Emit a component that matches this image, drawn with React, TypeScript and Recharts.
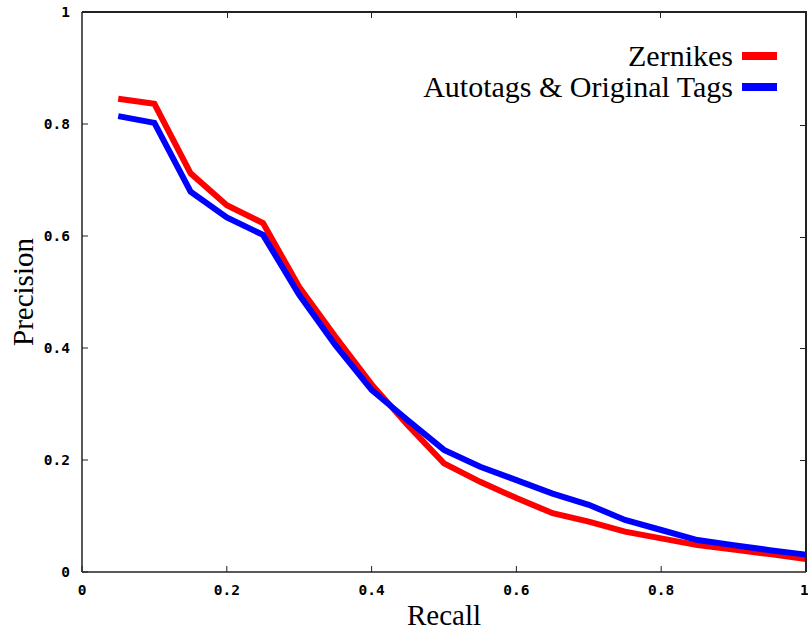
import { LineChart, Line, XAxis, YAxis, Legend, ReferenceLine } from "recharts";

const recall = [
  0.05, 0.1, 0.15, 0.2, 0.25, 0.3, 0.35, 0.4, 0.45, 0.5, 0.55, 0.6, 0.65, 0.7,
  0.75, 0.8, 0.85, 0.9, 0.95, 1.0,
];
const zernikes = [
  0.845, 0.836, 0.712, 0.655, 0.623, 0.509, 0.42, 0.335, 0.262, 0.194, 0.161,
  0.132, 0.105, 0.09, 0.072, 0.06, 0.048, 0.04, 0.032, 0.023,
];
const autotags = [
  0.814, 0.802, 0.679, 0.633, 0.602, 0.495, 0.405, 0.325, 0.271, 0.218, 0.188,
  0.164, 0.14, 0.12, 0.093, 0.075, 0.057, 0.048, 0.039, 0.031,
];
const ticks = [0, 0.2, 0.4, 0.6, 0.8, 1];
const seriesNames = ["Zernikes", "Autotags & Original Tags"];

const data = recall.map((r, i) => ({
  recall: r,
  zernikes: zernikes[i],
  autotags: autotags[i],
}));

const tickStyle = {
  fontFamily: "DejaVu Sans Mono",
  fontWeight: "bold",
  fontSize: 14.5,
  fill: "#000",
};
const frame = "#222";
const serif = "Liberation Serif";

function fmt(v: number) {
  return v === 0 || v === 1 ? String(v) : v.toFixed(1);
}

function LegendRows({ payload }: any) {
  const items = [...(payload || [])].sort(
    (a: any, b: any) => seriesNames.indexOf(a.value) - seriesNames.indexOf(b.value)
  );
  return (
    <div>
      {items.map((p: any) => (
        <div
          key={p.value}
          style={{
            display: "flex",
            alignItems: "center",
            justifyContent: "flex-end",
            height: 31,
          }}
        >
          <span
            style={{
              fontFamily: serif,
              fontSize: 30,
              color: "#000",
              marginRight: 9,
              whiteSpace: "nowrap",
            }}
          >
            {p.value}
          </span>
          <span
            style={{
              display: "inline-block",
              width: 35,
              height: 8,
              background: p.color,
            }}
          />
        </div>
      ))}
    </div>
  );
}

// top and right border of the gnuplot-style frame, with inward ticks
function FrameOverlay() {
  return (
    <div
      style={{
        position: "absolute",
        left: 82,
        top: 11,
        width: 725,
        height: 561,
        boxSizing: "border-box",
        borderTop: `2px solid ${frame}`,
        borderRight: `2px solid ${frame}`,
        pointerEvents: "none",
        zIndex: 5,
      }}
    >
      {ticks.slice(1, -1).map((t) => (
        <div
          key={"t" + t}
          style={{
            position: "absolute",
            left: `${t * 100}%`,
            top: 0,
            width: 1,
            height: 5,
            background: frame,
          }}
        />
      ))}
      {ticks.slice(1, -1).map((t) => (
        <div
          key={"r" + t}
          style={{
            position: "absolute",
            right: 0,
            top: `${(1 - t) * 100}%`,
            width: 5,
            height: 1,
            background: frame,
          }}
        />
      ))}
    </div>
  );
}

export default function App() {
  return (
    <div
      style={{ position: "relative", width: 808, height: 630, background: "#fff" }}
    >
      <style>{"body{margin:0}"}</style>
      <LineChart
        width={808}
        height={630}
        data={data}
        margin={{ top: 12, right: 2, left: 0, bottom: 0 }}
      >
        <XAxis
          dataKey="recall"
          type="number"
          domain={[0, 1]}
          ticks={ticks}
          tickFormatter={fmt}
          height={58}
          tickSize={-6}
          tickMargin={19}
          tick={tickStyle}
          stroke={frame}
          axisLine={{ stroke: frame, strokeWidth: 1.5 }}
          label={{
            value: "Recall",
            position: "insideBottom",
            offset: 5,
            style: { fontFamily: serif, fontSize: 29, fill: "#000" },
          }}
        />
        <YAxis
          type="number"
          domain={[0, 1]}
          ticks={ticks}
          tickFormatter={fmt}
          width={82}
          tickSize={-6}
          tickMargin={18}
          tick={tickStyle}
          stroke={frame}
          axisLine={{ stroke: frame, strokeWidth: 1.5 }}
          label={{
            value: "Precision",
            angle: -90,
            position: "insideLeft",
            offset: 23,
            style: {
              fontFamily: serif,
              fontSize: 29,
              fill: "#000",
              textAnchor: "middle",
            },
          }}
        />
        <ReferenceLine y={1} stroke={frame} strokeWidth={2} ifOverflow="visible" />
        <ReferenceLine x={1} stroke={frame} strokeWidth={2} ifOverflow="visible" />
        <Legend
          layout="vertical"
          align="center"
          verticalAlign="middle"
          content={<LegendRows />}
          wrapperStyle={{ top: 40, right: 31, left: "auto", width: "auto" }}
        />
        <Line
          dataKey="zernikes"
          name="Zernikes"
          stroke="#ff0000"
          strokeWidth={6}
          dot={false}
          isAnimationActive={false}
        />
        <Line
          dataKey="autotags"
          name="Autotags & Original Tags"
          stroke="#0000ff"
          strokeWidth={6}
          dot={false}
          isAnimationActive={false}
        />
      </LineChart>
      <FrameOverlay />
    </div>
  );
}
